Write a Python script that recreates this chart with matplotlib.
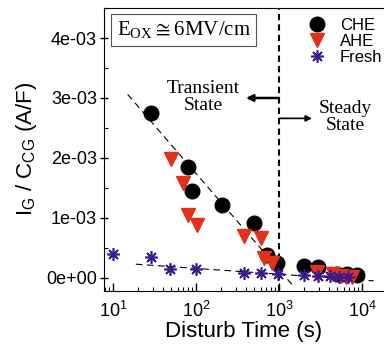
import numpy as np
import matplotlib
matplotlib.use("Agg")
import matplotlib.pyplot as plt
from matplotlib.ticker import FuncFormatter, MultipleLocator, LogLocator

plt.rcParams['font.family'] = ['Liberation Sans', 'DejaVu Sans']
plt.rcParams['mathtext.fontset'] = 'custom'
plt.rcParams['mathtext.rm'] = 'Liberation Serif'
plt.rcParams['mathtext.sf'] = 'Liberation Sans'
plt.rcParams['mathtext.fallback'] = 'stix'

# data (time in s, I_G/C_CG in A/F)
che_t = [29, 79, 90, 204, 500, 708, 937, 1990, 2960, 5000, 6600, 8700]
che_y = [2.75e-3, 1.85e-3, 1.45e-3, 1.22e-3, 0.92e-3, 0.38e-3, 0.25e-3, 0.20e-3, 0.18e-3, 0.07e-3, 0.06e-3, 0.05e-3]
ahe_t = [50, 69, 79, 102, 381, 603, 664, 812, 2900, 4500, 5600, 6500, 7500]
ahe_y = [1.98e-3, 1.59e-3, 1.05e-3, 0.88e-3, 0.69e-3, 0.66e-3, 0.33e-3, 0.24e-3, 0.10e-3, 0.06e-3, 0.03e-3, 0.01e-3, 0.02e-3]
fresh_t = [10, 29, 49, 100, 381, 607, 960, 1990, 2960, 4080, 5230, 6720]
fresh_y = [0.395e-3, 0.355e-3, 0.145e-3, 0.145e-3, 0.088e-3, 0.088e-3, 0.062e-3, 0.045e-3, 0.033e-3, 0.033e-3, 0.022e-3, 0.022e-3]
# guide lines (end points)
fit1_t = [15, 1445]
fit1_y = [3.06e-3, -0.117e-3]
fit2_t = [18.8, 13800]
fit2_y = [0.228e-3, -0.05e-3]

fig = plt.figure(figsize=(3.84, 3.5), dpi=100)
ax = fig.add_axes([0.271, 0.169, 0.729, 0.808])

ax.plot(fit1_t, fit1_y, color='black', lw=0.8, dashes=(6, 4), zorder=1)
ax.plot(fit2_t, fit2_y, color='black', lw=0.8, dashes=(6, 4), zorder=1)
ax.axvline(1000, color='black', lw=1.5, dashes=(3, 2), zorder=1)

ax.plot(che_t, che_y, 'o', color='black', ms=10.5, ls='none', label='CHE', zorder=3)
ax.plot(ahe_t, ahe_y, 'v', color='#e3301c', ms=10, ls='none', label='AHE', zorder=4)
ax.plot(fresh_t, fresh_y, marker=(8, 2, 0), color='#3a1a8c', ms=9, mew=1.2,
        ls='none', label='Fresh', zorder=5)

ax.set_xscale('log')
ax.set_xlim(7.8, 18400)
ax.set_ylim(-0.217e-3, 4.5e-3)
ax.xaxis.set_major_locator(LogLocator(base=10, numticks=10))
ax.xaxis.set_minor_locator(LogLocator(base=10, subs=np.arange(2, 10), numticks=20))
ax.yaxis.set_major_locator(MultipleLocator(1e-3))
ax.yaxis.set_minor_locator(MultipleLocator(0.5e-3))
ax.yaxis.set_major_formatter(FuncFormatter(lambda v, p: '%.0e' % v if abs(v) > 1e-9 else '0e+00'))

ax.tick_params(axis='x', which='major', direction='in', length=6, width=1, labelsize=13, pad=7)
ax.tick_params(axis='x', which='minor', direction='in', length=3, width=0.8)
ax.tick_params(axis='y', which='major', direction='inout', length=6, width=1, labelsize=13, pad=2)
ax.tick_params(axis='y', which='minor', direction='in', length=3, width=0.8)
ax.tick_params(top=False, right=False, which='both')
ax.spines['right'].set_visible(False)

ax.set_xlabel('Disturb Time (s)', fontsize=16, labelpad=0)
ax.set_ylabel(r'I$_\mathsf{G}$ / C$_\mathsf{CG}$ (A/F)', fontsize=16, labelpad=5)

leg = ax.legend(loc='upper right', frameon=False, fontsize=12, handletextpad=0.4,
                labelspacing=0.05, borderaxespad=0.2, bbox_to_anchor=(1.03, 1.0))

ax.text(0.045, 0.96, r'$\mathrm{E_{OX}} \cong \mathrm{6MV/cm}$', transform=ax.transAxes,
        fontsize=15, va='top', ha='left',
        bbox=dict(boxstyle='square,pad=0.25', fc='white', ec='#555555', lw=0.8))

ax.text(122, 3.02e-3, 'Transient\nState', family='Liberation Serif', fontsize=14,
        ha='center', va='center', linespacing=1.0)
ax.text(6300, 2.69e-3, 'Steady\nState', family='Liberation Serif', fontsize=14,
        ha='center', va='center', linespacing=1.0)
ax.annotate('', xy=(400, 3.0e-3), xytext=(1000, 3.0e-3),
            arrowprops=dict(arrowstyle='-|>', color='black', lw=1.8, mutation_scale=10, shrinkA=0, shrinkB=0))
ax.annotate('', xy=(2500, 2.66e-3), xytext=(1000, 2.66e-3),
            arrowprops=dict(arrowstyle='-|>', color='black', lw=1.2, mutation_scale=9, shrinkA=0, shrinkB=0))

fig.savefig('out.png', dpi=100)
